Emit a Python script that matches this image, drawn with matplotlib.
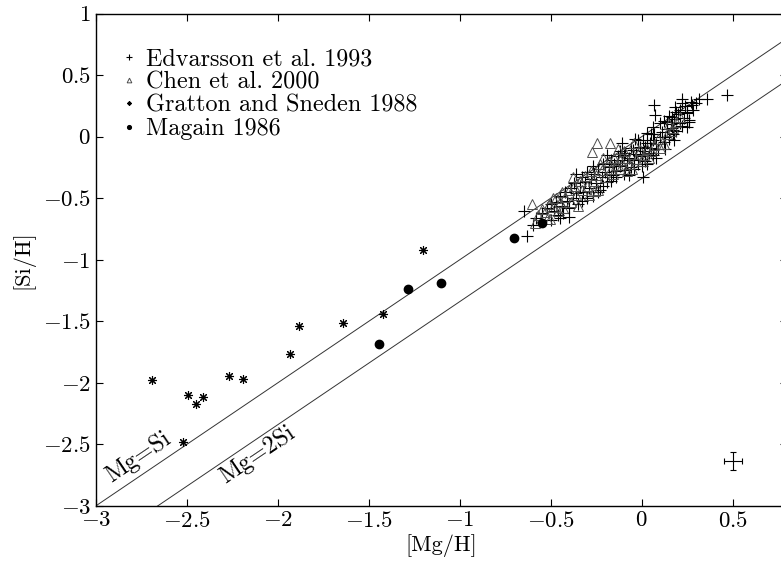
import matplotlib
matplotlib.use("Agg")
import matplotlib.pyplot as plt
from matplotlib.ticker import FuncFormatter
import numpy as np

plt.rcParams["font.family"] = "serif"
plt.rcParams["font.serif"] = ["cmr10"]
plt.rcParams["mathtext.fontset"] = "cm"
plt.rcParams["axes.formatter.use_mathtext"] = True

# Edvarsson et al. 1993  ([Mg/H], [Si/H])
edv_mg = [-0.645, -0.632, -0.40, 0.009, 0.469, 0.068, 0.223, 0.317, 0.357, 0.275,
          0.073, 0.247, 0.261, 0.247, 0.21, 0.183, 0.165, 0.137, 0.174, 0.10,
          0.064, 0.028, 0.009, 0.10, 0.045, -0.009, 0.165, -0.037,
          -0.55, -0.52, -0.50, -0.48, -0.47, -0.45, -0.44, -0.42, -0.41, -0.39,
          -0.38, -0.37, -0.36, -0.35, -0.34, -0.33, -0.32, -0.31, -0.30, -0.29,
          -0.28, -0.27, -0.26, -0.25, -0.24, -0.23, -0.22, -0.21, -0.20, -0.19,
          -0.18, -0.17, -0.16, -0.15, -0.14, -0.13, -0.12, -0.11, -0.10, -0.09,
          -0.08, -0.07, -0.06, -0.05, -0.04, -0.03, -0.02, -0.01, 0.00, 0.01,
          0.02, 0.03, 0.04, 0.05, 0.06, 0.07, 0.08, 0.09, 0.11, 0.12,
          0.13, 0.14, 0.15, 0.16, 0.17, 0.18, 0.19, 0.20, 0.21, 0.22,
          0.23, 0.24, 0.25, 0.27, 0.28, 0.30, -0.58, -0.60, -0.46, -0.43,
          -0.12, -0.10, -0.06, 0.02, 0.06, 0.19, 0.15,
          -0.50, -0.45, -0.40, -0.36, -0.33, -0.30, -0.27, -0.24, -0.21, -0.19,
          -0.17, -0.14, -0.11, -0.09, -0.07, -0.04, -0.02, 0.00, 0.03, 0.05,
          0.08, 0.12, 0.13, 0.18, 0.22, 0.26]
edv_si = [-0.60, -0.81, -0.65, -0.327, 0.337, 0.256, 0.302, 0.305, 0.305, 0.256,
          0.175, 0.189, 0.134, 0.08, 0.107, 0.242, 0.161, 0.12, 0.053, 0.107,
          0.08, 0.026, -0.028, -0.001, -0.055, -0.096, 0.067, -0.015,
          -0.62, -0.58, -0.55, -0.60, -0.53, -0.48, -0.56, -0.45, -0.52, -0.42,
          -0.50, -0.38, -0.46, -0.55, -0.40, -0.33, -0.45, -0.37, -0.29, -0.42,
          -0.34, -0.48, -0.30, -0.38, -0.26, -0.43, -0.33, -0.22, -0.29, -0.37,
          -0.25, -0.19, -0.31, -0.22, -0.28, -0.16, -0.24, -0.19, -0.30, -0.13,
          -0.21, -0.17, -0.25, -0.11, -0.19, -0.14, -0.22, -0.08, -0.16, -0.12,
          -0.20, -0.05, -0.13, -0.09, -0.15, 0.02, -0.06, -0.10, 0.04, -0.04,
          0.00, 0.06, -0.02, 0.10, 0.02, 0.14, 0.05, 0.18, 0.22, 0.09,
          0.15, 0.25, 0.20, 0.28, 0.22, 0.27, -0.66, -0.72, -0.64, -0.62,
          -0.12, -0.15, -0.09, -0.08, -0.03, 0.20, 0.17,
          -0.68, -0.66, -0.58, -0.30, -0.52, -0.50, -0.24, -0.45, -0.40, -0.15,
          -0.36, -0.33, -0.05, -0.27, -0.31, -0.26, -0.03, -0.24, -0.22, 0.02,
          -0.17, 0.13, -0.10, -0.03, 0.27, 0.12]

# Chen et al. 2000
chen_mg = [-0.601, -0.588, -0.504, -0.275, -0.244, -0.174, 0.159, -0.055, -0.12, -0.238,
           -0.486, -0.57, -0.55, -0.53, -0.51, -0.49, -0.47, -0.45, -0.44, -0.42,
           -0.40, -0.39, -0.37, -0.36, -0.34, -0.33, -0.31, -0.30, -0.28, -0.27,
           -0.25, -0.23, -0.22, -0.20, -0.18, -0.17, -0.15, -0.14, -0.12, -0.10,
           -0.09, -0.07, -0.05, -0.03, -0.01, 0.01, 0.03, 0.05, 0.07, 0.09,
           0.12, 0.14, 0.17, 0.19, 0.21, -0.52, -0.43,
           -0.46, -0.38, -0.35, -0.29, -0.26, -0.21, -0.16, -0.13, -0.08, -0.04,
           0.00, 0.04, 0.10, 0.15]
chen_si = [-0.551, -0.701, -0.668, -0.128, -0.055, -0.055, 0.042, -0.259, -0.259, -0.435,
           -0.502, -0.64, -0.59, -0.61, -0.55, -0.57, -0.50, -0.53, -0.45, -0.49,
           -0.43, -0.53, -0.40, -0.47, -0.36, -0.43, -0.32, -0.40, -0.28, -0.36,
           -0.31, -0.22, -0.27, -0.33, -0.20, -0.26, -0.17, -0.23, -0.19, -0.12,
           -0.17, -0.22, -0.14, -0.18, -0.11, -0.15, -0.10, -0.12, -0.07, -0.02,
           -0.06, 0.02, 0.07, 0.12, 0.16, -0.67, -0.58,
           -0.60, -0.33, -0.56, -0.47, -0.44, -0.17, -0.30, -0.10, -0.28, -0.05,
           -0.20, -0.17, -0.09, 0.10]

# Gratton and Sneden 1988
gs_mg = [-2.689, -2.491, -2.451, -2.409, -2.268, -2.191, -2.519, -1.931, -1.881, -1.640,
         -1.420, -1.200]
gs_si = [-1.98, -2.099, -2.169, -2.118, -1.947, -1.969, -2.481, -1.768, -1.541, -1.511,
         -1.441, -0.917]

# Magain 1986
mag_mg = [-1.282, -1.101, -1.442, -0.700, -0.550]
mag_si = [-1.240, -1.189, -1.681, -0.820, -0.698]

# typical error bar
err_x, err_y = 0.5, -2.636
err_dx, err_dy = 0.05, 0.072

fig = plt.figure(figsize=(7.81, 5.64), dpi=100)
ax = fig.add_axes([0.1225, 0.1028, 0.8856, 0.8732])

xline = np.array([-3.0, 0.8])
ax.plot(xline, xline, color="0.2", lw=0.7)
ax.plot(xline, xline - 0.34, color="0.2", lw=0.7)

ax.plot(edv_mg, edv_si, "+", color="k", ms=8.5, mew=0.8, ls="none",
        label="Edvarsson et al. 1993")
ax.plot(chen_mg, chen_si, "^", mfc="none", mec="0.3", ms=7.5, mew=0.7, ls="none",
        label="Chen et al. 2000")
ax.plot(gs_mg, gs_si, marker=(8, 2, 0), color="k", ms=6.5, mew=0.8, ls="none",
        label="Gratton and Sneden 1988")
ax.plot(mag_mg, mag_si, "o", color="k", ms=6, ls="none", label="Magain 1986")

ax.errorbar(err_x, err_y, xerr=err_dx, yerr=err_dy, fmt="none", ecolor="k",
            elinewidth=0.8, capsize=2.5, capthick=0.8)

# rotation of the 1:1 lines on screen
rot = np.degrees(np.arctan2(123.0, 182.0))
ax.text(-2.765, -2.60, "Mg=Si", rotation=rot, rotation_mode="anchor",
        ha="center", va="center", fontsize=17.5)
ax.text(-2.11, -2.58, "Mg=2Si", rotation=rot, rotation_mode="anchor",
        ha="center", va="center", fontsize=17.5)

ax.set_xlim(-3, 0.8)
ax.set_ylim(-3, 1)
ax.set_xticks([-3, -2.5, -2, -1.5, -1, -0.5, 0, 0.5])
ax.set_yticks([-3, -2.5, -2, -1.5, -1, -0.5, 0, 0.5, 1])
fmt = FuncFormatter(lambda v, p: f"${v:g}$")
ax.xaxis.set_major_formatter(fmt)
ax.yaxis.set_major_formatter(fmt)
ax.tick_params(direction="in", top=True, right=True, length=5, width=0.8,
               labelsize=16.5)
for s in ax.spines.values():
    s.set_linewidth(1.0)

ax.set_xlabel("[Mg/H]", fontsize=16, labelpad=2)
ax.set_ylabel("[Si/H]", fontsize=16, labelpad=6)

ax.legend(loc="upper left", bbox_to_anchor=(0.038, 0.93), frameon=False,
          fontsize=17.4, markerscale=0.45, handlelength=0.6, handletextpad=0.4,
          labelspacing=0.05, borderaxespad=0.0, borderpad=0.0)

fig.savefig("out.png", dpi=100)
